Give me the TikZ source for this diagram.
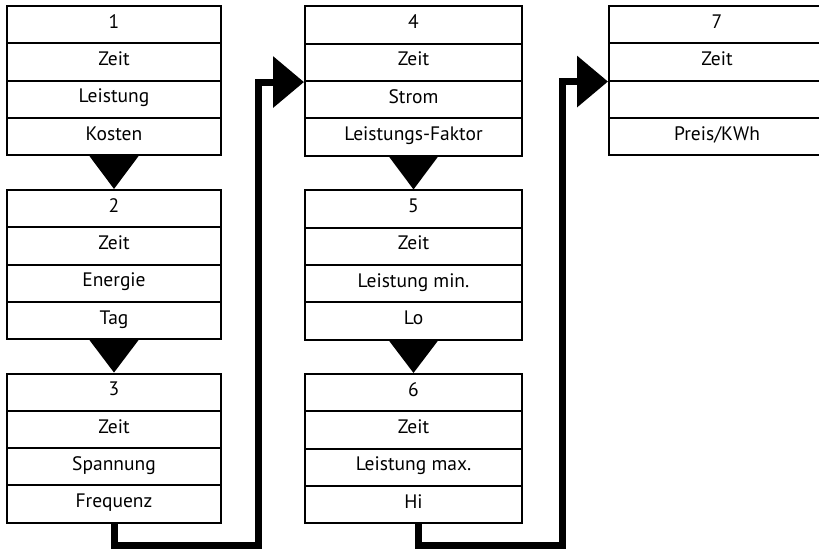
\documentclass[tikz,border=0pt]{standalone}
\usepackage{fontspec}
\setmainfont{PT Sans}
\usetikzlibrary{arrows.meta}

\tikzset{
  cell/.style={draw, line width=2pt, minimum height=37.3pt, inner sep=0pt,
    text height=0.7em, text depth=0pt, font=\fontsize{19.5}{21}\selectfont},
  cellA/.style={cell, minimum width=214.5pt},
  cellB/.style={cell, minimum width=217pt},
  cellC/.style={cell, minimum width=216pt},
  pointer/.style={fill=black},
  link/.style={line width=7pt, -{Triangle[width=50pt,length=31pt]}}
}

\begin{document}
\begin{tikzpicture}[x=1pt,y=-1pt]
\useasboundingbox (0,0) rectangle (819,549);
\clip (0,0) rectangle (819,549);

\node[cellA] (c1-1) at (114,24.6)  {1};
\node[cellA] (c1-2) at (114,61.9)  {Zeit};
\node[cellA] (c1-3) at (114,99.2)  {Leistung};
\node[cellA] (c1-4) at (114,136.5) {Kosten};

\node[cellA] (c2-1) at (114,208.6) {2};
\node[cellA] (c2-2) at (114,245.9) {Zeit};
\node[cellA] (c2-3) at (114,283.2) {Energie};
\node[cellA] (c2-4) at (114,320.5) {Tag};

\node[cellA] (c3-1) at (114,392.2) {3};
\node[cellA] (c3-2) at (114,429.5) {Zeit};
\node[cellA] (c3-3) at (114,466.8) {Spannung};
\node[cellA] (c3-4) at (114,504.1) {Frequenz};

\node[cellB] (c4-1) at (413.5,25.1)  {4};
\node[cellB] (c4-2) at (413.5,62.4)  {Zeit};
\node[cellB] (c4-3) at (413.5,99.7)  {Strom};
\node[cellB] (c4-4) at (413.5,137.0) {Leistungs-Faktor};

\node[cellB] (c5-1) at (413.5,209.1) {5};
\node[cellB] (c5-2) at (413.5,246.4) {Zeit};
\node[cellB] (c5-3) at (413.5,283.7) {Leistung min.};
\node[cellB] (c5-4) at (413.5,321.0) {Lo};

\node[cellB] (c6-1) at (413.5,392.6) {6};
\node[cellB] (c6-2) at (413.5,429.9) {Zeit};
\node[cellB] (c6-3) at (413.5,467.2) {Leistung max.};
\node[cellB] (c6-4) at (413.5,504.5) {Hi};

\node[cellC] (c7-1) at (717,24.6)  {7};
\node[cellC] (c7-2) at (717,61.9)  {Zeit};
\node[cellC] (c7-3) at (717,99.2)  {};
\node[cellC] (c7-4) at (717,136.5) {Preis/KWh};

\coordinate (bend1) at (258,545.5);
\coordinate (bend2) at (562,545.5);

% pointers inside a column
\fill[pointer] ([xshift=-24.5pt]c1-4.south) -- ([xshift=24.5pt]c1-4.south) -- (c2-1.north) -- cycle;
\fill[pointer] ([xshift=-24.5pt]c2-4.south) -- ([xshift=24.5pt]c2-4.south) -- (c3-1.north) -- cycle;
\fill[pointer] ([xshift=-24.5pt]c4-4.south) -- ([xshift=24.5pt]c4-4.south) -- (c5-1.north) -- cycle;
\fill[pointer] ([xshift=-24.5pt]c5-4.south) -- ([xshift=24.5pt]c5-4.south) -- (c6-1.north) -- cycle;

% links to the next column
\draw[link] (c3-4.south) |- (bend1) |- (c4-2.south west);
\draw[link] ([xshift=4.5pt]c6-4.south) |- (bend2) |- (c7-2.south west);
\end{tikzpicture}
\end{document}
